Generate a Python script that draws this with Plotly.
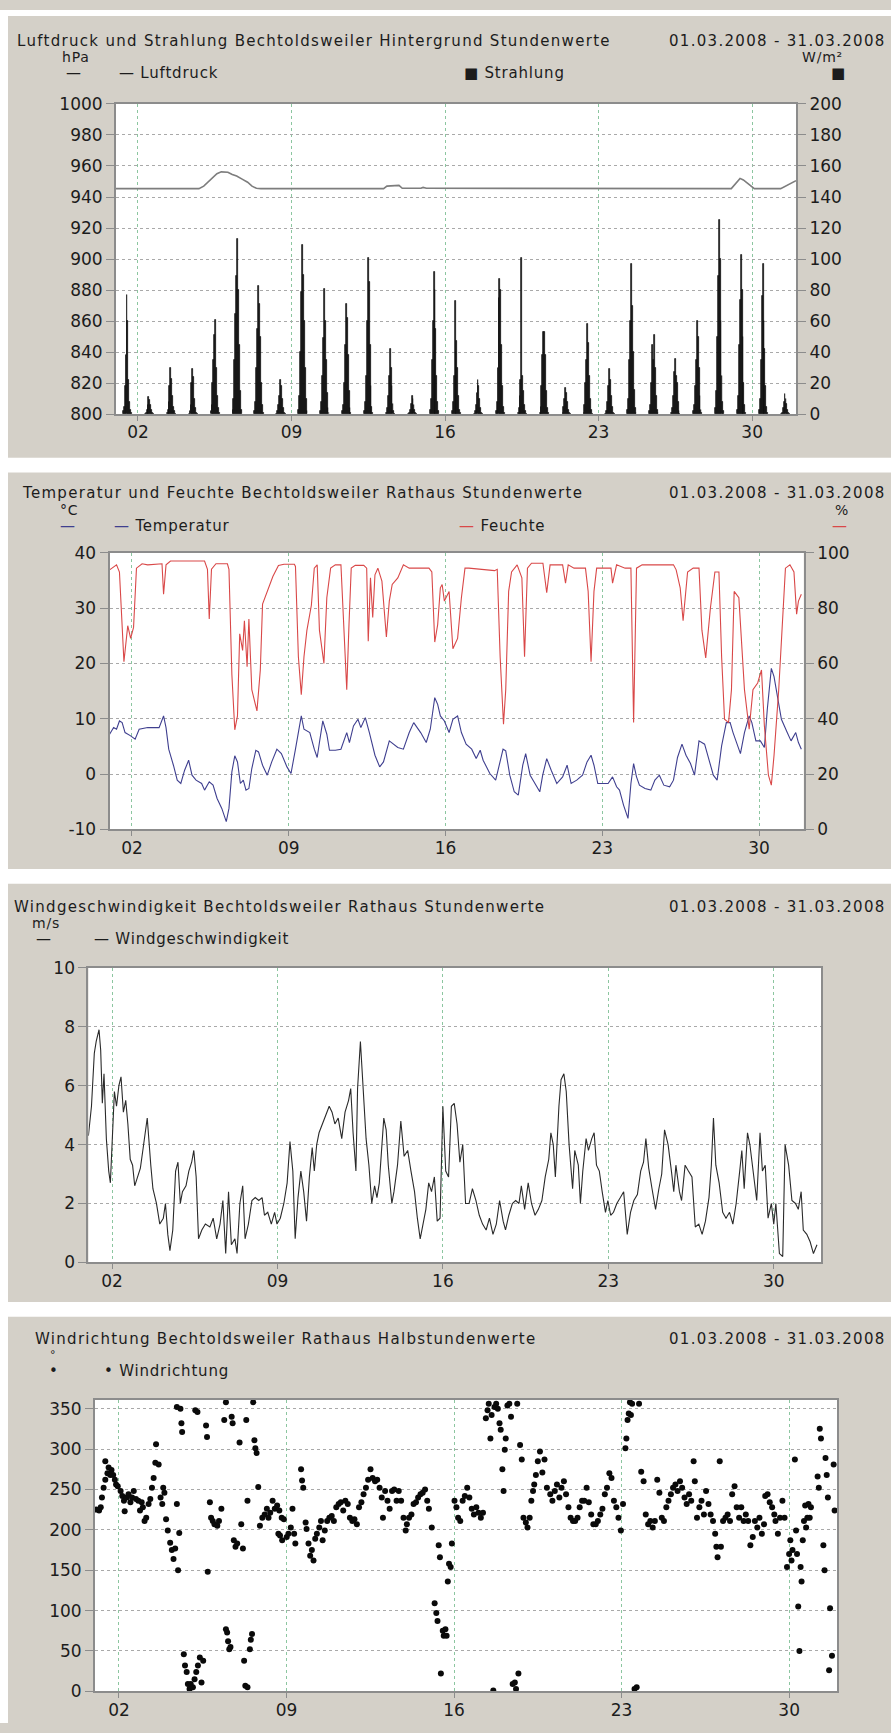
import plotly.graph_objects as go

W, H = 891, 1733

# ---------------- data ----------------
day_ticks = [2, 9, 16, 23, 30]
day_labels = ["02", "09", "16", "23", "30"]

# Luftdruck (hPa), day-of-month (fractional)
pressure_days = [1.0, 4.78, 5.0, 5.3, 5.6, 5.8, 6.1, 6.3, 6.5, 6.75, 7.0, 7.2, 7.4, 7.6,
                 13.2, 13.35, 13.9, 14.05, 14.9, 15.0, 15.15, 29.05, 29.3, 29.45, 29.6,
                 29.85, 30.1, 31.3, 31.6, 32.0]
pressure_hpa = [945.4, 945.4, 947, 951, 955, 956.2, 956, 954.5, 953.5, 951.5, 949.5, 947,
                945.6, 945.4, 945.4, 947, 947.5, 945.6, 945.6, 946.2, 945.6, 945.4, 950,
                952, 951, 948, 945.4, 945.4, 947.5, 950.5]

# Strahlung (W/m2), hourly values per day for the hours below
rad_hours = [8, 9, 10, 11, 12, 13, 14, 15, 16, 17]
radiation_by_day = [
    [2, 5, 18, 38, 77, 60, 22, 8, 3, 1],
    [0, 1, 3, 6, 11, 9, 6, 3, 1, 0],
    [1, 3, 8, 18, 30, 23, 12, 5, 2, 0],
    [0, 2, 6, 20, 29, 24, 10, 4, 1, 0],
    [2, 6, 20, 35, 51, 61, 30, 12, 4, 1],
    [3, 10, 35, 65, 89, 113, 80, 45, 15, 3],
    [2, 8, 30, 55, 83, 71, 50, 20, 6, 1],
    [0, 2, 6, 12, 22, 18, 10, 4, 1, 0],
    [3, 12, 40, 79, 109, 90, 60, 30, 10, 2],
    [2, 8, 25, 49, 81, 60, 35, 14, 4, 1],
    [2, 6, 20, 45, 71, 62, 38, 15, 4, 1],
    [2, 8, 25, 60, 101, 85, 45, 18, 5, 1],
    [1, 4, 12, 25, 42, 30, 18, 7, 2, 0],
    [0, 1, 3, 7, 12, 10, 6, 3, 1, 0],
    [3, 10, 35, 60, 92, 80, 55, 25, 8, 2],
    [2, 8, 25, 73, 40, 47, 30, 12, 3, 1],
    [0, 2, 6, 14, 22, 18, 10, 4, 1, 0],
    [2, 8, 30, 75, 87, 80, 45, 18, 5, 1],
    [1, 4, 12, 22, 101, 25, 15, 6, 2, 0],
    [1, 5, 18, 38, 53, 53, 38, 15, 4, 1],
    [0, 1, 5, 10, 17, 14, 8, 3, 1, 0],
    [1, 6, 20, 35, 58, 46, 25, 10, 3, 0],
    [0, 2, 8, 18, 29, 22, 12, 5, 1, 0],
    [3, 10, 35, 60, 97, 70, 40, 16, 4, 1],
    [2, 6, 20, 45, 35, 51, 30, 12, 3, 1],
    [1, 4, 12, 27, 36, 25, 20, 8, 2, 0],
    [2, 6, 18, 35, 60, 50, 30, 12, 3, 1],
    [4, 15, 50, 89, 125, 100, 60, 25, 8, 2],
    [3, 12, 45, 74, 103, 80, 50, 20, 6, 1],
    [3, 10, 35, 76, 97, 60, 42, 18, 5, 1],
    [0, 1, 4, 8, 13, 10, 7, 3, 1, 0],
]

# Feuchte (%), (day, value)
humidity_points = [
    (1.00, 93.8), (1.31, 95.6), (1.44, 93), (1.64, 60.6), (1.81, 73.6), (1.94, 69), (2.07, 73),
    (2.20, 94.4), (2.45, 96), (2.70, 95.6), (3.34, 96), (3.41, 85), (3.52, 95.6), (3.72, 97),
    (5.24, 97), (5.37, 94), (5.45, 76), (5.55, 94), (5.75, 96), (6.26, 96), (6.33, 94),
    (6.46, 56), (6.59, 36), (6.71, 41), (6.81, 70.7), (6.94, 64.7), (7.02, 75.4), (7.14, 58.8),
    (7.22, 76), (7.35, 50.5), (7.58, 42.8), (7.73, 57.6), (7.83, 81.4), (8.04, 86), (8.29, 91.4),
    (8.54, 95.4), (8.79, 95.8), (9.25, 95.8), (9.30, 95), (9.43, 62.4), (9.56, 48.7), (9.68, 62.4),
    (9.81, 71.9), (10.01, 81), (10.14, 94.4), (10.27, 95.6), (10.37, 72), (10.57, 60), (10.70, 83.7),
    (10.87, 94.4), (11.08, 95.6), (11.33, 95.6), (11.38, 86), (11.59, 50.5), (11.69, 74),
    (11.79, 94.4), (11.97, 95.4), (12.35, 95.4), (12.48, 94.4), (12.55, 68), (12.65, 90.9),
    (12.75, 76.6), (12.85, 92), (12.98, 94.4), (13.16, 89.7), (13.36, 69.5), (13.49, 82.5),
    (13.62, 88.5), (13.87, 90.9), (14.12, 95.6), (14.38, 94.4), (15.26, 94.4), (15.39, 93),
    (15.52, 67.7), (15.65, 74), (15.77, 87.3), (15.85, 88.5), (15.95, 82.5), (16.16, 86),
    (16.33, 65.3), (16.54, 69), (16.71, 83.7), (16.87, 94.4), (17.04, 94.4), (18.19, 93.5),
    (18.31, 94), (18.44, 62.4), (18.59, 38), (18.69, 50.5), (18.82, 86), (18.95, 93),
    (19.20, 95.6), (19.41, 90.9), (19.53, 62.4), (19.66, 94.4), (19.84, 96.2), (20.35, 96.2),
    (20.52, 85.5), (20.67, 95.6), (20.85, 95.6), (21.23, 95.6), (21.36, 89), (21.48, 95.6),
    (21.74, 94.4), (22.25, 94.4), (22.37, 86), (22.50, 60.6), (22.63, 86), (22.75, 94.4),
    (23.01, 94.4), (23.39, 94.4), (23.46, 89), (23.64, 95.6), (24.02, 94.4), (24.28, 94.4),
    (24.40, 38.6), (24.53, 94.4), (24.78, 95.6), (26.18, 95.6), (26.30, 93.8), (26.48, 87.3),
    (26.61, 75.4), (26.81, 93), (27.06, 94.4), (27.32, 94.4), (27.45, 72), (27.62, 62),
    (27.83, 80), (28.03, 93), (28.21, 93), (28.33, 62.4), (28.46, 39.8), (28.64, 38.6),
    (28.77, 50.5), (28.89, 86), (29.10, 83.7), (29.35, 50.5), (29.56, 36.2), (29.73, 50.5),
    (29.94, 52.9), (30.11, 57.6), (30.24, 37.4), (30.42, 19.6), (30.55, 16), (30.67, 26.7),
    (30.88, 50.5), (31.05, 76.6), (31.18, 94.4), (31.38, 95.6), (31.56, 93), (31.68, 77.8),
    (31.76, 82.5), (31.89, 85),
]

# Temperatur (degC), (day, value)
temperature_points = [
    (1.00, 7.2), (1.18, 8.4), (1.31, 8.1), (1.44, 9.6), (1.56, 9.3), (1.69, 7.5), (1.94, 6.9),
    (2.14, 6.3), (2.32, 8.1), (2.70, 8.4), (3.21, 8.4), (3.41, 10.5), (3.52, 8.4), (3.64, 4.5),
    (3.85, 1.6), (4.02, -1.1), (4.18, -1.7), (4.35, 0.7), (4.53, 2.5), (4.68, -0.2), (4.86, -1.1),
    (5.11, -1.7), (5.24, -2.9), (5.45, -1.4), (5.62, -2.0), (5.80, -4.4), (6.01, -6.2),
    (6.21, -8.6), (6.33, -6.2), (6.46, 0.4), (6.59, 3.3), (6.71, 2.2), (6.84, -1.7), (6.97, -1.1),
    (7.09, -2.9), (7.22, -2.6), (7.35, 1.0), (7.53, 4.3), (7.65, 4.0), (7.83, 1.6), (8.04, -0.2),
    (8.24, 2.2), (8.47, 4.5), (8.67, 3.7), (8.92, 1.3), (9.10, 0.1), (9.30, 4.5), (9.56, 10.5),
    (9.68, 8.1), (9.94, 7.5), (10.14, 4.5), (10.27, 3.0), (10.37, 5.7), (10.52, 9.6), (10.70, 7.2),
    (10.82, 4.3), (11.08, 4.3), (11.33, 4.5), (11.59, 7.5), (11.71, 5.7), (11.89, 8.7), (12.09, 9.9),
    (12.22, 8.4), (12.42, 10.2), (12.60, 7.5), (12.85, 3.4), (13.06, 1.3), (13.23, 2.2), (13.49, 6.0),
    (13.87, 4.8), (14.12, 4.5), (14.38, 7.5), (14.58, 9.3), (14.89, 7.5), (15.14, 5.7), (15.32, 8.1),
    (15.52, 13.8), (15.65, 12.6), (15.77, 10.5), (15.95, 9.6), (16.16, 7.5), (16.33, 9.9),
    (16.54, 10.5), (16.71, 7.5), (16.92, 5.4), (17.17, 4.5), (17.37, 2.8), (17.55, 4.3), (17.68, 2.5),
    (17.98, 0.1), (18.24, -1.1), (18.39, 1.6), (18.57, 4.5), (18.69, 4.2), (18.87, -0.2),
    (19.07, -3.2), (19.25, -3.8), (19.45, 1.6), (19.58, 3.7), (19.78, -0.2), (20.01, -1.7),
    (20.21, -3.2), (20.34, -0.2), (20.52, 2.8), (20.72, 0.7), (20.97, -1.7), (21.23, -0.5),
    (21.43, 1.6), (21.61, -1.7), (21.86, -1.1), (22.12, -0.2), (22.32, 2.2), (22.50, 3.4),
    (22.63, 1.6), (22.80, -1.7), (23.01, -1.7), (23.26, -1.7), (23.46, -0.5), (23.64, -2.3),
    (23.77, -2.9), (23.95, -5.6), (24.15, -8.0), (24.28, -1.7), (24.40, 1.9), (24.53, -0.5),
    (24.66, -2.0), (24.91, -2.6), (25.17, -2.9), (25.35, -1.1), (25.55, -0.2), (25.75, -2.0),
    (26.01, -2.3), (26.18, -1.1), (26.36, 3.0), (26.56, 5.4), (26.74, 3.4), (26.94, 1.9),
    (27.12, -0.2), (27.32, 6.0), (27.57, 5.4), (27.78, 2.5), (27.96, -0.2), (28.13, -1.1),
    (28.33, 5.1), (28.54, 9.3), (28.71, 9.3), (28.84, 7.5), (28.99, 5.7), (29.17, 3.7), (29.35, 7.5),
    (29.56, 10.5), (29.68, 9.3), (29.86, 6.0), (30.06, 6.0), (30.24, 4.8), (30.37, 11.7),
    (30.55, 19.1), (30.67, 17.6), (30.82, 14.0), (31.00, 9.9), (31.26, 7.5), (31.43, 6.0),
    (31.64, 7.5), (31.76, 5.7), (31.89, 4.5),
]

# Windgeschwindigkeit (m/s), (day, value)
wind_speed_points = [
    (1.00, 4.3), (1.13, 5.3), (1.25, 7.1), (1.33, 7.5), (1.45, 7.9), (1.52, 7.2), (1.59, 5.4),
    (1.66, 6.4), (1.76, 4.2), (1.86, 3.1), (1.93, 2.7), (2.02, 4.2), (2.10, 5.8), (2.19, 5.3),
    (2.29, 6.0), (2.38, 6.3), (2.48, 5.1), (2.58, 5.5), (2.67, 4.7), (2.77, 3.5), (2.87, 3.3),
    (2.96, 2.6), (3.08, 2.9), (3.20, 3.2), (3.32, 3.9), (3.49, 4.9), (3.64, 3.3), (3.73, 2.5),
    (3.88, 2.0), (4.02, 1.3), (4.17, 1.5), (4.26, 2.0), (4.36, 0.95), (4.45, 0.4), (4.57, 1.1),
    (4.69, 3.1), (4.79, 3.4), (4.89, 2.0), (4.98, 2.4), (5.13, 2.6), (5.25, 3.1), (5.37, 3.4),
    (5.46, 3.8), (5.56, 2.9), (5.66, 0.8), (5.80, 1.1), (5.95, 1.3), (6.14, 1.2), (6.28, 1.5),
    (6.43, 0.8), (6.57, 1.3), (6.69, 2.1), (6.81, 0.3), (6.93, 2.4), (7.05, 0.6), (7.20, 0.8),
    (7.29, 0.3), (7.41, 2.0), (7.53, 2.6), (7.63, 0.8), (7.77, 1.3), (7.92, 2.1), (8.06, 2.2),
    (8.21, 2.1), (8.35, 2.2), (8.45, 1.6), (8.59, 1.7), (8.74, 1.3), (8.88, 1.7), (8.98, 1.3),
    (9.12, 1.5), (9.27, 2.0), (9.41, 2.7), (9.53, 4.1), (9.65, 3.1), (9.75, 0.8), (9.87, 2.2),
    (9.99, 3.1), (10.11, 2.4), (10.23, 1.4), (10.35, 2.9), (10.47, 3.9), (10.56, 3.1), (10.66, 4.0),
    (10.76, 4.4), (10.90, 4.7), (11.07, 5.0), (11.19, 5.3), (11.31, 5.1), (11.43, 4.7), (11.57, 4.9),
    (11.72, 4.2), (11.86, 5.1), (12.01, 5.5), (12.10, 5.9), (12.20, 4.4), (12.32, 3.1), (12.39, 5.9),
    (12.51, 7.5), (12.63, 5.9), (12.75, 4.2), (12.87, 3.3), (12.99, 2.0), (13.11, 2.6), (13.21, 2.2),
    (13.31, 2.7), (13.40, 3.8), (13.50, 4.9), (13.60, 4.5), (13.69, 3.3), (13.84, 2.0), (13.93, 2.4),
    (14.08, 3.3), (14.22, 4.8), (14.36, 3.6), (14.51, 3.8), (14.65, 3.1), (14.80, 2.4), (14.92, 1.5),
    (15.04, 0.8), (15.16, 1.3), (15.28, 1.8), (15.40, 2.7), (15.52, 2.4), (15.64, 2.9), (15.76, 1.4),
    (15.88, 1.5), (16.00, 5.3), (16.12, 3.1), (16.24, 2.9), (16.36, 5.3), (16.48, 5.4), (16.60, 4.7),
    (16.72, 3.4), (16.84, 4.0), (16.96, 2.0), (17.11, 2.0), (17.25, 2.5), (17.40, 2.1), (17.54, 1.6),
    (17.68, 1.3), (17.83, 1.1), (17.97, 1.5), (18.12, 0.95), (18.26, 1.3), (18.40, 2.1), (18.55, 1.4),
    (18.65, 1.1), (18.79, 1.6), (18.94, 2.0), (19.08, 2.1), (19.22, 2.0), (19.32, 2.6), (19.46, 1.8),
    (19.61, 2.7), (19.75, 2.0), (19.90, 1.6), (20.04, 1.8), (20.19, 2.1), (20.33, 2.9), (20.48, 3.5),
    (20.57, 4.4), (20.67, 4.0), (20.76, 2.9), (20.91, 5.3), (21.00, 6.2), (21.12, 6.4), (21.22, 5.8),
    (21.34, 4.0), (21.49, 2.5), (21.58, 3.8), (21.73, 3.3), (21.82, 2.0), (21.92, 3.1), (22.06, 4.2),
    (22.16, 3.8), (22.30, 4.2), (22.40, 4.4), (22.50, 3.3), (22.62, 3.1), (22.74, 2.4), (22.88, 1.7),
    (22.98, 2.1), (23.10, 1.6), (23.22, 1.7), (23.36, 2.0), (23.51, 2.2), (23.65, 2.4), (23.80, 0.95),
    (23.94, 1.7), (24.08, 2.1), (24.23, 2.3), (24.37, 3.1), (24.49, 3.4), (24.59, 4.2), (24.71, 3.2),
    (24.85, 2.5), (25.00, 1.8), (25.14, 2.5), (25.26, 3.0), (25.38, 4.5), (25.53, 4.0), (25.67, 3.1),
    (25.77, 2.4), (25.86, 3.3), (26.01, 2.4), (26.10, 2.1), (26.25, 3.3), (26.39, 3.1), (26.54, 2.9),
    (26.68, 1.2), (26.83, 1.3), (26.97, 0.95), (27.11, 1.4), (27.26, 2.2), (27.36, 3.3), (27.45, 4.9),
    (27.55, 3.3), (27.69, 2.7), (27.84, 1.7), (27.98, 1.5), (28.13, 1.7), (28.27, 1.3), (28.41, 2.0),
    (28.56, 3.1), (28.65, 3.8), (28.75, 2.5), (28.89, 4.4), (28.99, 4.0), (29.13, 3.1), (29.28, 2.1),
    (29.42, 4.4), (29.52, 3.1), (29.64, 3.3), (29.76, 1.5), (29.90, 2.0), (30.00, 1.3), (30.09, 2.0),
    (30.24, 0.3), (30.38, 0.2), (30.48, 4.0), (30.63, 3.3), (30.77, 2.1), (30.92, 2.0), (31.04, 1.8),
    (31.16, 2.4), (31.25, 1.1), (31.40, 0.95), (31.54, 0.7), (31.68, 0.3), (31.83, 0.6),
]

# Windrichtung (deg), half-hourly readings, (day, value)
wind_dir_points = [
    (1.05, 225), (1.17, 224), (1.24, 228), (1.29, 240), (1.36, 252), (1.43, 262), (1.43, 285),
    (1.52, 270), (1.57, 277), (1.64, 268), (1.69, 274), (1.76, 268), (1.83, 262), (1.88, 256),
    (1.95, 254), (2.07, 248), (2.14, 242), (2.21, 236), (2.24, 223), (2.33, 240), (2.40, 244),
    (2.48, 234), (2.55, 240), (2.62, 248), (2.71, 238), (2.81, 236), (2.88, 224), (2.95, 234),
    (3.00, 228), (3.07, 211), (3.14, 215), (3.24, 232), (3.31, 238), (3.38, 252), (3.45, 264),
    (3.52, 283), (3.55, 306), (3.66, 281), (3.74, 240), (3.81, 232), (3.85, 252), (3.90, 246),
    (3.97, 213), (4.04, 199), (4.14, 184), (4.21, 175), (4.28, 164), (4.35, 177), (4.42, 232),
    (4.47, 150), (4.52, 196), (4.42, 352), (4.57, 350), (4.61, 332), (4.64, 321), (4.71, 46),
    (4.76, 32), (4.83, 24), (4.88, 9), (4.95, 3), (5.00, 9), (5.09, 5), (5.16, 15), (5.23, 24),
    (5.30, 32), (5.38, 42), (5.45, 11), (5.52, 38), (5.19, 348), (5.28, 346), (5.64, 329),
    (5.68, 315), (5.71, 148), (5.80, 234), (5.85, 215), (5.92, 211), (5.99, 207), (6.11, 205),
    (6.18, 211), (6.28, 226), (6.47, 358), (6.40, 336), (6.47, 77), (6.52, 73), (6.56, 62),
    (6.61, 52), (6.66, 55), (6.71, 340), (6.75, 332), (6.80, 187), (6.87, 179), (6.94, 183),
    (7.04, 308), (7.11, 207), (7.18, 177), (7.23, 38), (7.28, 7), (7.37, 5), (7.32, 336),
    (7.37, 236), (7.47, 52), (7.51, 64), (7.56, 71), (7.61, 358), (7.66, 311), (7.70, 301),
    (7.75, 295), (7.82, 253), (7.89, 205), (7.99, 215), (8.09, 219), (8.18, 226), (8.25, 215),
    (8.32, 221), (8.42, 236), (8.51, 226), (8.61, 230), (8.70, 224), (8.80, 215), (8.89, 213),
    (8.66, 195), (8.73, 193), (8.82, 187), (9.01, 191), (9.08, 195), (9.18, 203), (9.25, 226),
    (9.32, 195), (9.37, 183), (9.61, 275), (9.65, 261), (9.70, 252), (9.80, 209), (9.84, 201),
    (9.92, 183), (9.99, 168), (10.06, 175), (10.13, 162), (10.20, 189), (10.27, 195), (10.37, 203),
    (10.44, 211), (10.51, 187), (10.60, 199), (10.70, 211), (10.79, 215), (10.89, 217), (10.98, 211),
    (11.08, 228), (11.18, 232), (11.27, 234), (11.37, 224), (11.46, 236), (11.56, 232), (11.65, 215),
    (11.75, 211), (11.84, 213), (11.94, 207), (12.03, 228), (12.13, 234), (12.22, 244), (12.32, 252),
    (12.41, 262), (12.51, 275), (12.60, 264), (12.70, 260), (12.79, 262), (12.89, 252), (12.98, 240),
    (13.03, 215), (13.12, 248), (13.22, 236), (13.31, 226), (13.41, 248), (13.50, 250), (13.60, 236),
    (13.69, 248), (13.79, 236), (13.89, 215), (13.98, 199), (14.03, 207), (14.12, 215), (14.22, 219),
    (14.31, 232), (14.41, 234), (14.50, 240), (14.60, 244), (14.69, 246), (14.79, 250), (14.88, 236),
    (14.95, 226), (15.07, 203), (15.19, 109), (15.26, 97), (15.31, 87), (15.36, 181), (15.41, 166),
    (15.45, 22), (15.53, 75), (15.57, 69), (15.64, 77), (15.69, 69), (15.74, 136), (15.79, 158),
    (15.86, 154), (15.91, 183), (16.02, 236), (16.10, 228), (16.17, 215), (16.26, 211), (16.36, 236),
    (16.45, 242), (16.55, 252), (16.64, 240), (16.74, 226), (16.83, 219), (16.93, 228), (17.02, 221),
    (17.12, 215), (17.21, 221), (17.33, 338), (17.40, 348), (17.45, 356), (17.52, 313), (17.57, 342),
    (17.64, 1), (17.69, 352), (17.76, 356), (17.83, 350), (17.90, 332), (17.95, 324), (18.02, 275),
    (18.07, 248), (18.12, 299), (18.16, 313), (18.23, 354), (18.31, 356), (18.38, 340), (18.45, 9),
    (18.54, 11), (18.59, 3), (18.64, 356), (18.69, 22), (18.76, 305), (18.83, 287), (18.90, 215),
    (19.00, 209), (19.07, 203), (19.16, 215), (19.23, 236), (19.30, 248), (19.35, 256), (19.42, 268),
    (19.50, 285), (19.59, 297), (19.69, 271), (19.78, 287), (19.88, 252), (20.02, 244), (20.11, 236),
    (20.21, 248), (20.30, 256), (20.40, 240), (20.49, 252), (20.59, 260), (20.68, 244), (20.78, 228),
    (20.87, 215), (20.97, 211), (21.06, 211), (21.16, 215), (21.25, 228), (21.35, 236), (21.44, 236),
    (21.54, 252), (21.63, 234), (21.73, 219), (21.82, 207), (21.92, 207), (22.01, 211), (22.11, 219),
    (22.20, 226), (22.30, 244), (22.39, 252), (22.49, 270), (22.58, 264), (22.68, 236), (22.78, 228),
    (22.87, 215), (22.97, 199), (23.06, 232), (23.16, 301), (23.20, 313), (23.25, 336), (23.30, 344),
    (23.35, 358), (23.39, 342), (23.44, 356), (23.54, 3), (23.63, 5), (23.73, 356), (23.82, 272),
    (23.92, 260), (24.01, 219), (24.11, 207), (24.20, 211), (24.30, 203), (24.39, 211), (24.49, 262),
    (24.58, 246), (24.68, 215), (24.77, 211), (24.87, 228), (24.96, 236), (25.06, 244), (25.15, 252),
    (25.25, 256), (25.34, 248), (25.44, 260), (25.53, 252), (25.63, 240), (25.72, 232), (25.82, 244),
    (25.91, 236), (26.01, 285), (26.06, 260), (26.15, 215), (26.25, 228), (26.34, 236), (26.44, 219),
    (26.53, 248), (26.63, 232), (26.72, 219), (26.82, 211), (26.91, 195), (26.96, 179), (27.01, 166),
    (27.10, 285), (27.15, 179), (27.24, 211), (27.34, 215), (27.43, 219), (27.53, 211), (27.62, 244),
    (27.72, 254), (27.81, 228), (27.91, 215), (28.00, 228), (28.10, 211), (28.19, 219), (28.29, 211),
    (28.38, 181), (28.48, 191), (28.57, 211), (28.67, 203), (28.76, 215), (28.86, 195), (28.95, 207),
    (29.00, 242), (29.10, 244), (29.19, 234), (29.29, 228), (29.38, 219), (29.43, 211), (29.53, 195),
    (29.62, 215), (29.72, 236), (29.81, 215), (29.91, 154), (30.00, 170), (30.05, 187), (30.10, 162),
    (30.14, 175), (30.24, 287), (30.29, 199), (30.33, 170), (30.38, 105), (30.43, 50), (30.48, 154),
    (30.52, 136), (30.57, 187), (30.62, 211), (30.67, 230), (30.71, 203), (30.76, 215), (30.81, 232),
    (30.86, 215), (30.91, 228), (31.19, 266), (31.24, 252), (31.28, 325), (31.33, 313), (31.43, 181),
    (31.48, 150), (31.52, 289), (31.57, 268), (31.62, 240), (31.67, 26), (31.71, 103), (31.79, 44),
    (31.86, 281), (31.90, 224),
]

# ---------------- styling / layout ----------------
FONT = "DejaVu Sans"
TXT = "#1c1c1c"
PANEL_GRAY = "#d4d0c8"
AXIS_GRAY = "#8c8c8c"
HGRID = "#a9a9a9"
VGRID = "#8cc6a0"
TEMP_BLUE = "#3f3f8f"
HUM_RED = "#d94848"

tickfont = dict(family=FONT, size=17, color=TXT)


def px(x):
    return x / W


def py(y):
    return 1 - y / H


def xaxis_cfg(x0, x1, anchor):
    return dict(domain=[px(x0), px(x1)], anchor=anchor, range=[1, 32],
                tickmode="array", tickvals=day_ticks, ticktext=day_labels,
                showgrid=True, gridcolor=VGRID, griddash="dot", gridwidth=1,
                showline=True, linecolor=AXIS_GRAY, linewidth=1.5, mirror=True,
                ticks="outside", ticklen=5, tickcolor=AXIS_GRAY, tickfont=tickfont,
                ticklabelstandoff=-3, zeroline=False, fixedrange=True)


def yaxis_cfg(y_top, y_bot, anchor, rng, vals, texts, side="left", overlay=None, grid=True):
    d = dict(anchor=anchor, range=rng, tickmode="array", tickvals=vals, ticktext=texts,
             showgrid=grid, gridcolor=HGRID, griddash="dot", gridwidth=1,
             showline=True, linecolor=AXIS_GRAY, linewidth=2,
             ticks="outside", ticklen=8, tickcolor=AXIS_GRAY, tickfont=tickfont,
             zeroline=False, fixedrange=True, side=side)
    if overlay:
        d["overlaying"] = overlay
    else:
        d["domain"] = [py(y_bot), py(y_top)]
        d["mirror"] = True
    return d


fig = go.Figure()

# Panel 1: Strahlung bars (right axis) and Luftdruck line (left axis)
rad_x, rad_y = [], []
for i, vals in enumerate(radiation_by_day):
    for h, v in zip(rad_hours, vals):
        rad_x.append(1 + i + h / 24)
        rad_y.append(v)
fig.add_trace(go.Bar(x=rad_x, y=rad_y, xaxis="x", yaxis="y2", width=0.04,
                     marker=dict(color="#111111", line=dict(color="#111111", width=0.7)),
                     name="Strahlung"))
fig.add_trace(go.Scatter(x=pressure_days, y=pressure_hpa, xaxis="x", yaxis="y",
                         mode="lines", line=dict(color="#7d7d7d", width=1.6), name="Luftdruck"))

# Panel 2: Temperatur / Feuchte
fig.add_trace(go.Scatter(x=[p[0] for p in humidity_points], y=[p[1] for p in humidity_points],
                         xaxis="x2", yaxis="y4", mode="lines",
                         line=dict(color=HUM_RED, width=1.1), name="Feuchte"))
fig.add_trace(go.Scatter(x=[p[0] for p in temperature_points], y=[p[1] for p in temperature_points],
                         xaxis="x2", yaxis="y3", mode="lines",
                         line=dict(color=TEMP_BLUE, width=1.1), name="Temperatur"))

# Panel 3: Windgeschwindigkeit
fig.add_trace(go.Scatter(x=[p[0] for p in wind_speed_points], y=[p[1] for p in wind_speed_points],
                         xaxis="x3", yaxis="y5", mode="lines",
                         line=dict(color="#2a2a2a", width=1.1), name="Windgeschwindigkeit"))

# Panel 4: Windrichtung
fig.add_trace(go.Scatter(x=[p[0] for p in wind_dir_points], y=[p[1] for p in wind_dir_points],
                         xaxis="x4", yaxis="y6", mode="markers", cliponaxis=True,
                         marker=dict(color="#0a0a0a", size=6), name="Windrichtung"))

# plot rectangles (pixels)
P1 = (116, 796, 95, 409)
P2 = (109.6, 803.8, 549, 829)
P3 = (88.4, 821, 969, 1267)
P4 = (95, 837, 1406, 1701)

fig.update_layout(
    width=W, height=H, autosize=False,
    margin=dict(l=0, r=0, t=0, b=0, pad=0),
    paper_bgcolor=PANEL_GRAY, plot_bgcolor="#ffffff",
    showlegend=False, bargap=0,
    font=dict(family=FONT, color=TXT),
    xaxis=xaxis_cfg(P1[0], P1[1], "y"),
    yaxis=yaxis_cfg(P1[2], P1[3], "x", [800, 1000], list(range(800, 1001, 20)),
                    [str(v) for v in range(800, 1001, 20)]),
    yaxis2=yaxis_cfg(P1[2], P1[3], "x", [0, 200], list(range(0, 201, 20)),
                     [str(v) for v in range(0, 201, 20)], side="right", overlay="y", grid=False),
    xaxis2=xaxis_cfg(P2[0], P2[1], "y3"),
    yaxis3=yaxis_cfg(P2[2], P2[3], "x2", [-10, 40], [-10, 0, 10, 20, 30, 40],
                     ["-10", "0", "10", "20", "30", "40"]),
    yaxis4=yaxis_cfg(P2[2], P2[3], "x2", [0, 100], [0, 20, 40, 60, 80, 100],
                     ["0", "20", "40", "60", "80", "100"], side="right", overlay="y3", grid=False),
    xaxis3=xaxis_cfg(P3[0], P3[1], "y5"),
    yaxis5=yaxis_cfg(P3[2], P3[3], "x3", [0, 10], [0, 2, 4, 6, 8, 10],
                     ["0", "2", "4", "6", "8", "10"]),
    xaxis4=xaxis_cfg(P4[0], P4[1], "y6"),
    yaxis6=yaxis_cfg(P4[2], P4[3], "x4", [0, 361], list(range(0, 351, 50)),
                     [str(v) for v in range(0, 351, 50)]),
)

# white page strips around / between the grey panels
white_strips = [(0, 0, 8, H), (0, 0, W, 6), (0, 453, W, 468), (0, 869, W, 884), (0, 1307, W, 1322)]
for x0, y0, x1, y1 in white_strips:
    fig.add_shape(type="rect", xref="paper", yref="paper", x0=px(x0), x1=px(x1),
                  y0=py(y1), y1=py(y0), fillcolor="#ffffff", line=dict(width=0), layer="below")


def sp(text, spacing, color=None):
    style = f"letter-spacing:{spacing}px"
    if color:
        style += f";color:{color}"
    return f"<span style='{style}'>{text}</span>"


def note(x, y, text, anchor="left", size=15):
    fig.add_annotation(x=px(x), y=py(y), xref="paper", yref="paper", text=text,
                       showarrow=False, xanchor=anchor, yanchor="middle",
                       font=dict(family=FONT, size=size, color=TXT))


DATE = "01.03.2008 - 31.03.2008"
TS = 1.3   # title letter spacing
LS = 0.8   # legend / unit letter spacing

# Panel 1 texts
note(15, 31, sp("Luftdruck und Strahlung Bechtoldsweiler Hintergrund Stundenwerte", TS))
note(888, 31, sp(DATE, TS), anchor="right")
note(60, 48, sp("hPa", LS), size=14)
note(800, 48, sp("W/m²", LS), size=14)
note(64, 64, "—")
note(117, 64, sp("— Luftdruck", LS))
note(462, 64, sp("■ Strahlung", LS))
note(829, 64, "■")

# Panel 2 texts
note(20, 489, sp("Temperatur und Feuchte Bechtoldsweiler Rathaus Stundenwerte", TS))
note(888, 489, sp(DATE, TS), anchor="right")
note(58, 506, sp("°C", LS), size=14)
note(833, 506, "%", size=14)
note(58, 522, sp("—", 0, TEMP_BLUE))
note(112, 522, sp("—", LS, TEMP_BLUE) + sp(" Temperatur", LS))
note(457, 522, sp("—", LS, HUM_RED) + sp(" Feuchte", LS))
note(830, 522, sp("—", 0, HUM_RED))

# Panel 3 texts
note(12, 907, sp("Windgeschwindigkeit Bechtoldsweiler Rathaus Stundenwerte", TS))
note(888, 907, sp(DATE, TS), anchor="right")
note(30, 924, sp("m/s", LS), size=14)
note(34, 940, "—")
note(92, 940, sp("— Windgeschwindigkeit", LS))

# Panel 4 texts
note(33, 1345, sp("Windrichtung Bechtoldsweiler Rathaus Halbstundenwerte", TS))
note(888, 1345, sp(DATE, TS), anchor="right")
note(48, 1360, "°", size=11)
note(47, 1377, "•")
note(102, 1377, sp("• Windrichtung", LS))

fig.write_html("out.html", config={"displayModeBar": False},
               post_script="document.body.style.margin='0';document.body.style.overflow='hidden';")
